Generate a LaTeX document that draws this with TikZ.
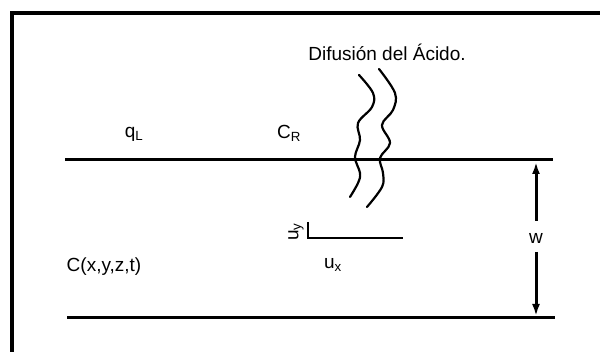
\documentclass[tikz,border=0pt]{standalone}
\usepackage{fontspec}
\setmainfont{Liberation Sans}
\usetikzlibrary{arrows.meta}
\begin{document}
\begin{tikzpicture}[x=1pt,y=-1pt,
  lbl/.style={inner sep=0pt, font=\fontsize{19}{21}\selectfont},
  sub/.style={},
  thick line/.style={line width=3pt},
  wave/.style={line width=2.2pt, line cap=round},
  dimarrow/.style={line width=3pt, -{Latex[length=12pt,width=8pt]}}]
\useasboundingbox (0,0) rectangle (600,352);
% frame (cropped at right and bottom)
\draw[line width=3.5pt] (12,360) -- (12,13) -- (610,13);
% channel walls
\coordinate (tl) at (65,160);
\coordinate (tr) at (553,160);
\coordinate (bl) at (67,318);
\coordinate (br) at (555,318);
\draw[thick line] (tl) -- (tr);
\draw[thick line] (bl) -- (br);
% labels
\node[lbl] (diff) at (387,52) {Difusión del Ácido.};
\node[lbl] (qL) at (134,134) {q\textsubscript{L}};
\node[lbl] (CR) at (289,133) {C\textsubscript{R}};
\node[lbl] (C) at (104,267) {C(x,y,z,t)};
\node[lbl] (w) at (536,238) {w};
\node[lbl] (ux) at (333,265) {u\textsubscript{x}};
\node[lbl, rotate=90] (uy) at (296,232) {u\textsubscript{y}};
% velocity axes
\coordinate (vt) at (308,222);
\coordinate (vo) at (308,238);
\coordinate (vr) at (403,238);
\draw[line width=2.6pt] (vt) -- (vo) -- (vr);
% wavy diffusion lines
\draw[wave] plot[smooth, tension=0.6] coordinates {(359,75) (373,93) (372,107) (358,123) (360,140) (355,157) (360,173) (358,183) (350,197)};
\draw[wave] plot[smooth, tension=0.6] coordinates {(379,69) (395,93) (393,110) (382,125) (390,143) (380,158) (383,173) (382,187) (367,207)};
% width arrows
\coordinate (a1) at (536,221);
\coordinate (a2) at (536,162);
\coordinate (b1) at (536,252);
\coordinate (b2) at (536,316);
\draw[dimarrow] (a1) -- (a2);
\draw[dimarrow] (b1) -- (b2);
\end{tikzpicture}
\end{document}
